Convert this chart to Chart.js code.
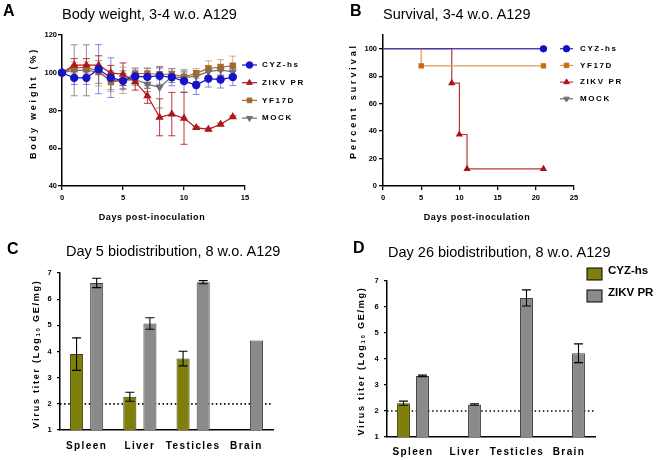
<!DOCTYPE html>
<html>
<head>
<meta charset="utf-8">
<script src="https://cdn.jsdelivr.net/npm/chart.js@4.4.1/dist/chart.umd.min.js"></script>
<style>
  body { margin: 0; background: #fff; font-family: "Liberation Sans", Arial, sans-serif; }
  #wrap { position: relative; width: 660px; height: 460px; overflow: hidden; }
  canvas { position: absolute; }
  .txt { position: absolute; white-space: nowrap; line-height: 1; color: #000; }
  .letter { font-weight: bold; font-size: 16px; }
  .title { font-size: 14.5px; }
  .axt { font-weight: bold; font-size: 9px; }
  .axt sub { font-size: 6px; vertical-align: -1px; line-height: 0; }
  .vert { transform: translate(-50%, -50%) rotate(-90deg); }
  .hor { transform: translate(-50%, -50%); }
</style>
</head>
<body>
<div id="wrap">
  <canvas id="chartA" width="330" height="230" style="left:0;top:0"></canvas>
  <canvas id="chartB" width="330" height="230" style="left:330px;top:0"></canvas>
  <canvas id="chartC" width="330" height="230" style="left:0;top:230px"></canvas>
  <canvas id="chartD" width="330" height="230" style="left:330px;top:230px"></canvas>

  <div class="txt letter" style="left:3px;top:3px">A</div>
  <div class="txt title" style="left:62px;top:6.7px">Body weight, 3-4 w.o. A129</div>
  <div class="txt axt hor" style="left:152px;top:216.5px;letter-spacing:0.6px">Days post-inoculation</div>
  <div class="txt axt vert" style="left:33px;top:102.5px;letter-spacing:2.8px">Body weight (%)</div>

  <div class="txt letter" style="left:350px;top:3px">B</div>
  <div class="txt title" style="left:383px;top:6.7px">Survival, 3-4 w.o. A129</div>
  <div class="txt axt hor" style="left:477px;top:216.5px;letter-spacing:0.6px">Days post-inoculation</div>
  <div class="txt axt vert" style="left:353px;top:101px;letter-spacing:2.9px">Percent survival</div>

  <div class="txt letter" style="left:7px;top:241px">C</div>
  <div class="txt title" style="left:66px;top:243.7px">Day 5 biodistribution, 8 w.o. A129</div>
  <div class="txt axt vert" style="left:36px;top:354px;letter-spacing:1.75px">Virus titer (Log<sub>10</sub> GE/mg)</div>

  <div class="txt letter" style="left:353px;top:240px">D</div>
  <div class="txt title" style="left:388px;top:244.7px">Day 26 biodistribution, 8 w.o. A129</div>
  <div class="txt axt vert" style="left:361px;top:361px;letter-spacing:1.75px">Virus titer (Log<sub>10</sub> GE/mg)</div>
</div>

<script>
// panel A: body weight (%) by day
const days = [0, 1, 2, 3, 4, 5, 6, 7, 8, 9, 10, 11, 12, 13, 14];
const cyzWeight = [100, 97.3, 97.3, 101.9, 97.4, 95.7, 98.1, 97.8, 98.4, 97.6, 95.6, 93.5, 96.9, 96.4, 97.7];
const cyzWeightErr = [0, 3.5, 3.5, 13, 10.5, 4, 4, 4.5, 4.5, 4.5, 6, 5, 4.5, 4.5, 4.5];
const zikvWeight = [100, 104, 104, 104, 99.9, 99.2, 95.3, 87.8, 76.4, 78.1, 75.9, 70.9, 70, 72.7, 76.6];
const zikvWeightErr = [0, 3.5, 3.5, 5, 4, 6, 4.5, 4, 9.8, 11.5, 13.8, 0.6, 0.6, 0.6, 0.6];
const yfWeight = [100, 102.7, 102.7, 101, 95, 96, 99.6, 99.6, 99.2, 99.2, 97.9, 99.7, 102.3, 102.9, 103.8];
const yfWeightErr = [0, 3, 3, 8, 5, 7, 3, 3, 3, 3, 3, 2.5, 4, 4, 5];
const mockWeight = [100, 101.3, 101.3, 100.4, 96, 96, 96.4, 94, 92.3, 97.8, 97.4, 98.2, 100.6, 101.5, 100.4];
const mockWeightErr = [0, 13.5, 13.5, 6, 5, 5, 3, 4, 11, 3, 3, 3, 3, 3, 3];

// panel B: percent survival
const cyzSurvDays = [0, 21];
const cyzSurv = [100, 100];
const yfSurvDays = [0, 5, 21];
const yfSurv = [100, 87.5, 87.5];
const zikvSurvDays = [0, 9, 10, 11, 21];
const zikvSurv = [100, 75, 37.5, 12.5, 12.5];
const mockSurvDays = [0, 21];
const mockSurv = [100, 100];

// panels C and D: virus titer, log10 GE/mg
const organs = ["Spleen", "Liver", "Testicles", "Brain"];
const day5Cyz = [3.9, 2.27, 3.73, null];
const day5CyzErr = [0.62, 0.17, 0.28, null];
const day5Zikv = [6.62, 5.07, 6.65, 4.42];
const day5ZikvErr = [0.18, 0.22, 0.06, null];
const day26Cyz = [2.3, null, null, null];
const day26CyzErr = [0.08, null, null, null];
const day26Zikv = [3.35, 2.25, 6.35, 4.22];
const day26ZikvErr = [0.03, 0.03, 0.31, 0.36];
const detectionLimit = 2;

const FONT = "'Liberation Sans', Arial, sans-serif";
Chart.defaults.font.family = FONT;
Chart.defaults.color = "#000";
Chart.defaults.animation = false;
Chart.defaults.plugins.legend.display = false;
Chart.defaults.plugins.tooltip.enabled = false;

function drawErrorBars(chart, opts) {
  const ctx = chart.ctx;
  chart.data.datasets.forEach((ds, di) => {
    if (!ds.errors) return;
    const meta = chart.getDatasetMeta(di);
    const yScale = chart.scales[meta.yAxisID];
    ctx.save();
    ctx.strokeStyle = ds.errorColor || "#000";
    ctx.lineWidth = opts.lineWidth || 1;
    meta.data.forEach((el, i) => {
      const e = ds.errors[i];
      if (!e) return;
      const v = meta.controller.getParsed(i).y;
      const top = yScale.getPixelForValue(v + e);
      const bot = yScale.getPixelForValue(v - e);
      const cap = opts.cap || 3;
      ctx.beginPath();
      ctx.moveTo(el.x, top);
      ctx.lineTo(el.x, bot);
      ctx.moveTo(el.x - cap, top);
      ctx.lineTo(el.x + cap, top);
      ctx.moveTo(el.x - cap, bot);
      ctx.lineTo(el.x + cap, bot);
      ctx.stroke();
    });
    ctx.restore();
  });
}

const errorBars = {
  id: "errorBars",
  beforeDatasetsDraw(chart, args, opts) {
    if (!opts.onTop) drawErrorBars(chart, opts);
  },
  afterDatasetsDraw(chart, args, opts) {
    if (opts.onTop) drawErrorBars(chart, opts);
  },
};

const limitLine = {
  id: "limitLine",
  beforeDatasetsDraw(chart, args, opts) {
    if (opts.value == null) return;
    const { ctx, chartArea, scales } = chart;
    const py = scales.y.getPixelForValue(opts.value);
    ctx.save();
    ctx.setLineDash([1.5, 2.6]);
    ctx.lineWidth = 1.6;
    ctx.strokeStyle = "#000";
    ctx.beginPath();
    ctx.moveTo(chartArea.left, py);
    ctx.lineTo(chartArea.right, py);
    ctx.stroke();
    ctx.restore();
  },
};

const tracking = {
  id: "tracking",
  beforeDraw(chart, args, opts) {
    chart.ctx.letterSpacing = opts.value || "0px";
  },
  afterDraw(chart) {
    chart.ctx.letterSpacing = "0px";
  },
};

const keyLegend = {
  id: "keyLegend",
  afterDraw(chart, args, o) {
    if (!o.items) return;
    const ctx = chart.ctx;
    ctx.save();
    ctx.font = o.font;
    ctx.letterSpacing = o.spacing || "0px";
    ctx.textBaseline = "middle";
    o.items.forEach((di, k) => {
      const ds = chart.data.datasets[di];
      const y = o.y + k * o.dy;
      if (o.style === "box") {
        ctx.fillStyle = ds.backgroundColor;
        ctx.strokeStyle = "#000";
        ctx.lineWidth = 1;
        ctx.fillRect(o.x, y - o.boxH / 2, o.boxW, o.boxH);
        ctx.strokeRect(o.x, y - o.boxH / 2, o.boxW, o.boxH);
      } else {
        ctx.strokeStyle = ds.borderColor;
        ctx.lineWidth = ds.borderWidth;
        ctx.beginPath();
        ctx.moveTo(o.x, y);
        ctx.lineTo(o.x + o.lineLen, y);
        ctx.stroke();
        ctx.fillStyle = ds.pointBackgroundColor;
        ctx.strokeStyle = ds.pointBorderColor;
        ctx.lineWidth = 1;
        Chart.helpers.drawPoint(ctx, {
          pointStyle: ds.pointStyle,
          rotation: ds.pointRotation || 0,
          radius: o.radius,
          borderWidth: 1,
        }, o.x + o.lineLen / 2, y);
      }
      ctx.fillStyle = "#000";
      ctx.fillText(ds.label, o.textX, y + (o.textDy || 0));
    });
    ctx.restore();
  },
};

Chart.register(errorBars, limitLine, tracking, keyLegend);

function xy(xs, ys) {
  return xs.map((x, i) => ({ x: x, y: ys[i] }));
}

function axisX(min, max, step, height) {
  return {
    type: "linear",
    min: min,
    max: max,
    ticks: { stepSize: step, font: { size: 7.5, weight: "bold" }, padding: 3 },
    grid: { drawOnChartArea: false, color: "#000", tickLength: 4, lineWidth: 1.3 },
    border: { color: "#000", width: 1.5 },
    afterFit: (s) => { s.height = height; },
  };
}

function axisY(min, max, step, width, pad) {
  return {
    min: min,
    max: max,
    ticks: { stepSize: step, font: { size: 7.5, weight: "bold" }, padding: pad },
    grid: { drawOnChartArea: false, color: "#000", tickLength: 4, lineWidth: 1.3 },
    border: { color: "#000", width: 1.5 },
    afterFit: (s) => { s.width = width; },
  };
}

function weightSet(label, data, errs, color, errColor, style, rot) {
  return {
    label: label,
    data: xy(days, data),
    errors: errs,
    errorColor: errColor,
    borderColor: color,
    borderWidth: 1.2,
    pointStyle: style,
    pointRotation: rot || 0,
    pointRadius: 3.6,
    pointBackgroundColor: color,
    pointBorderColor: color,
    clip: false,
  };
}

new Chart(document.getElementById("chartA"), {
  type: "line",
  data: {
    datasets: [
      weightSet("CYZ-hs", cyzWeight, cyzWeightErr, "#1414c8", "rgba(40,40,210,0.55)", "circle"),
      weightSet("ZIKV PR", zikvWeight, zikvWeightErr, "#b0161c", "rgba(176,22,28,0.85)", "triangle"),
      weightSet("YF17D", yfWeight, yfWeightErr, "#a0692e", "rgba(170,120,60,0.6)", "rect"),
      weightSet("MOCK", mockWeight, mockWeightErr, "#6e6e6e", "rgba(100,100,100,0.7)", "triangle", 180),
    ],
  },
  options: {
    responsive: false,
    layout: { padding: { top: 35, right: 85, left: 0, bottom: 0 } },
    scales: {
      x: axisX(0, 15, 5, 44),
      y: axisY(40, 120, 20, 62, 1),
    },
    plugins: {
      errorBars: { cap: 3.5, lineWidth: 1 },
      keyLegend: {
        items: [0, 1, 2, 3], x: 242, y: 65, dy: 17.7, lineLen: 15, radius: 3.3,
        textX: 262, font: "bold 8px " + FONT, spacing: "1.6px",
      },
    },
  },
});

function survSet(label, xs, ys, color, lineColor, style, rot) {
  return {
    label: label,
    data: xy(xs, ys),
    stepped: true,
    borderColor: lineColor,
    borderWidth: 1.2,
    pointStyle: style,
    pointRotation: rot || 0,
    pointRadius: xs.map((x, i) => (i === 0 ? 0 : 3)),
    pointBackgroundColor: color,
    pointBorderColor: color,
    clip: false,
  };
}

new Chart(document.getElementById("chartB"), {
  type: "line",
  data: {
    datasets: [
      survSet("CYZ-hs", cyzSurvDays, cyzSurv, "#1010c8", "#2a2ad2", "circle"),
      survSet("YF17D", yfSurvDays, yfSurv, "#cc6a10", "#dc9a5a", "rect"),
      survSet("ZIKV PR", zikvSurvDays, zikvSurv, "#aa1418", "#b8383c", "triangle"),
      survSet("MOCK", mockSurvDays, mockSurv, "#6e6e6e", "#6e6e6e", "triangle", 180),
    ],
  },
  options: {
    responsive: false,
    layout: { padding: { top: 35, right: 86, left: 0, bottom: 0 } },
    scales: {
      x: axisX(0, 25, 5, 44),
      y: Object.assign(axisY(0, 110, 20, 53, 2), {
        afterBuildTicks: (s) => { s.ticks = s.ticks.filter((t) => t.value <= 100); },
      }),
    },
    plugins: {
      keyLegend: {
        items: [0, 1, 2, 3], x: 230, y: 48.7, dy: 16.7, lineLen: 13, radius: 3.2,
        textX: 250, font: "bold 8px " + FONT, spacing: "1.6px",
      },
    },
  },
});

function barScales(width, height, pad) {
  return {
    x: {
      ticks: { font: { size: 10, weight: "bold" }, padding: pad, maxRotation: 0, autoSkip: false },
      grid: { drawOnChartArea: false, drawTicks: false },
      border: { color: "#000", width: 1.5 },
      afterFit: (s) => { s.height = height; },
    },
    y: {
      min: 1,
      max: 7,
      ticks: { stepSize: 1, font: { size: 7.5, weight: "bold" }, padding: 4 },
      grid: { drawOnChartArea: false, color: "#000", tickLength: 3, lineWidth: 1.3 },
      border: { color: "#000", width: 1.5 },
      afterFit: (s) => { s.width = width; },
    },
  };
}

function barSet(label, data, errs, color, border, catPct, barPct) {
  return {
    label: label,
    data: data,
    errors: errs,
    backgroundColor: color,
    borderColor: border,
    borderWidth: 1,
    categoryPercentage: catPct,
    barPercentage: barPct,
  };
}

new Chart(document.getElementById("chartC"), {
  type: "bar",
  data: {
    labels: organs,
    datasets: [
      barSet("CYZ-hs", day5Cyz, day5CyzErr, "#7f7f0c", "#3c3c08", 0.755, 0.65),
      barSet("ZIKV PR", day5Zikv, day5ZikvErr, "#8a8a8a", "#404040", 0.755, 0.65),
    ],
  },
  options: {
    responsive: false,
    layout: { padding: { top: 43, right: 57, left: 0, bottom: 0 } },
    scales: barScales(60, 30, 10.5),
    plugins: {
      errorBars: { onTop: true, cap: 4.5, lineWidth: 1.1 },
      limitLine: { value: detectionLimit },
      tracking: { value: "1.4px" },
    },
  },
});

new Chart(document.getElementById("chartD"), {
  type: "bar",
  data: {
    labels: organs,
    datasets: [
      barSet("CYZ-hs", day26Cyz, day26CyzErr, "#7f7f0c", "#3c3c08", 0.73, 0.68),
      barSet("ZIKV PR", day26Zikv, day26ZikvErr, "#8a8a8a", "#404040", 0.73, 0.68),
    ],
  },
  options: {
    responsive: false,
    layout: { padding: { top: 51, right: 65, left: 0, bottom: 0 } },
    scales: barScales(57, 23, 9),
    plugins: {
      errorBars: { onTop: true, cap: 4.5, lineWidth: 1.1 },
      limitLine: { value: detectionLimit },
      tracking: { value: "1.4px" },
      keyLegend: {
        style: "box", items: [0, 1], x: 257, y: 44, dy: 22, boxW: 15, boxH: 12,
        textX: 278, textDy: -3, font: "bold 11.5px " + FONT, spacing: "0px",
      },
    },
  },
});
</script>
</body>
</html>
